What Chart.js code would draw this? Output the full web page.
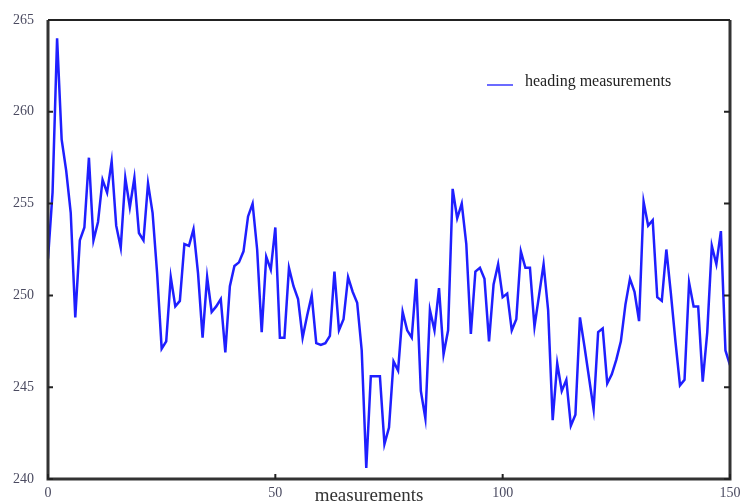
<!DOCTYPE html>
<html>
<head>
<meta charset="utf-8">
<script src="https://cdn.jsdelivr.net/npm/chart.js@4.4.0/dist/chart.umd.min.js"></script>
<style>
    html, body { margin: 0; padding: 0; background: #fff; }
    #wrap { width: 741px; height: 504px; }
</style>
</head>
<body>
<div id="wrap"><canvas id="headingChart"></canvas></div>
<script>
const measurements = [];
for (let i = 0; i <= 150; i++) measurements.push(i);

const headings = [
    252.0, 255.6, 264.0, 258.5, 256.8, 254.5, 248.8, 253.0, 253.7, 257.5,
    253.0, 254.0, 256.3, 255.6, 257.3, 253.8, 252.6, 256.4, 254.8, 256.4,
    253.4, 253.0, 256.1, 254.5, 251.2, 247.1, 247.5, 251.0, 249.4, 249.7,
    252.8, 252.7, 253.6, 251.2, 247.7, 251.0, 249.1, 249.4, 249.8, 246.9,
    250.5, 251.6, 251.8, 252.4, 254.3, 255.0, 252.5, 248.0, 252.1, 251.4,
    253.7, 247.7, 247.7, 251.5, 250.5, 249.8, 247.7, 248.9, 250.0, 247.4,
    247.3, 247.4, 247.8, 251.3, 248.1, 248.7, 251.0, 250.2, 249.6, 247.0,
    240.6, 245.6, 245.6, 245.6, 241.9, 242.8, 246.4, 245.9, 249.1, 248.1,
    247.7, 250.9, 244.8, 243.3, 249.2, 248.1, 250.4, 246.8, 248.1, 255.8,
    254.2, 255.0, 252.8, 247.9, 251.3, 251.5, 250.9, 247.5, 250.6, 251.7,
    249.9, 250.1, 248.1, 248.7, 252.4, 251.5, 251.5, 248.3, 250.0, 251.7,
    249.2, 243.2, 246.3, 244.8, 245.4, 242.9, 243.5, 248.8, 247.2, 245.5,
    243.8, 248.0, 248.2, 245.2, 245.7, 246.5, 247.5, 249.5, 250.9, 250.2,
    248.6, 255.1, 253.8, 254.1, 249.9, 249.7, 252.5, 250.1, 247.5, 245.1,
    245.4, 250.7, 249.4, 249.4, 245.3, 248.0, 252.7, 251.7, 253.5, 247.0,
    246.2
];

const xTicks = [0, 50, 100, 150];
const yTicks = [240, 245, 250, 255, 260, 265];
const seriesLabel = 'heading measurements';
const xTitle = 'measurements';

const points = measurements.map((m, idx) => ({ x: m, y: headings[idx] }));

// frame, inward ticks, legend and axis title
const framePlugin = {
    id: 'frame',
    afterDraw(chart) {
        const ctx = chart.ctx;
        const a = chart.chartArea;
        const xs = chart.scales.x;
        const ys = chart.scales.y;
        ctx.save();

        ctx.strokeStyle = '#333';
        ctx.lineWidth = 3;
        ctx.beginPath();
        ctx.moveTo(a.left, a.top);
        ctx.lineTo(a.left, a.bottom);
        ctx.lineTo(a.right, a.bottom);
        ctx.lineTo(a.right, a.top);
        ctx.stroke();
        ctx.lineWidth = 2;
        ctx.strokeStyle = '#222';
        ctx.beginPath();
        ctx.moveTo(a.left, a.top);
        ctx.lineTo(a.right, a.top);
        ctx.stroke();

        ctx.lineWidth = 2;
        ctx.strokeStyle = '#222';
        ctx.beginPath();
        yTicks.forEach(v => {
            const py = ys.getPixelForValue(v);
            ctx.moveTo(a.left, py);
            ctx.lineTo(a.left + 5, py);
            ctx.moveTo(a.right, py);
            ctx.lineTo(a.right - 6, py);
        });
        xTicks.forEach(v => {
            const px = xs.getPixelForValue(v);
            ctx.moveTo(px, a.bottom);
            ctx.lineTo(px, a.bottom - 5);
        });
        ctx.stroke();

        // legend
        ctx.strokeStyle = '#3a3aff';
        ctx.lineWidth = 1.5;
        ctx.beginPath();
        ctx.moveTo(487, 85);
        ctx.lineTo(513, 85);
        ctx.stroke();
        ctx.fillStyle = '#222';
        ctx.font = '16px "Liberation Serif", serif';
        ctx.textBaseline = 'middle';
        ctx.textAlign = 'left';
        ctx.fillText(seriesLabel, 525, 82);

        // axis title
        ctx.font = '19px "Liberation Serif", serif';
        ctx.textAlign = 'center';
        ctx.fillStyle = '#333';
        ctx.fillText(xTitle, 369, 496);
        ctx.restore();
    }
};

const ctx = document.getElementById('headingChart').getContext('2d');

const headingChart = new Chart(ctx, {
    type: 'line',
    data: {
        datasets: [{
            label: seriesLabel,
            data: points,
            borderColor: '#1f1fff',
            borderWidth: 2.5,
            pointRadius: 0,
            tension: 0,
            fill: false
        }]
    },
    options: {
        responsive: true,
        maintainAspectRatio: false,
        animation: false,
        layout: {
            padding: { top: 20, right: 11, left: 0, bottom: 0 }
        },
        plugins: {
            legend: { display: false },
            tooltip: { enabled: false }
        },
        scales: {
            x: {
                type: 'linear',
                min: 0,
                max: 150,
                afterBuildTicks: s => { s.ticks = xTicks.map(v => ({ value: v })); },
                afterFit: s => {
                    s.height = 25;
                    s.paddingLeft = 0;
                    s.paddingRight = 0;
                },
                grid: { display: false, drawTicks: false },
                border: { display: false },
                ticks: {
                    padding: 6,
                    color: '#4a4a60',
                    font: { family: '"Liberation Serif", serif', size: 14 }
                }
            },
            y: {
                min: 240,
                max: 265,
                afterBuildTicks: s => { s.ticks = yTicks.map(v => ({ value: v })); },
                afterFit: s => {
                    s.width = 48;
                    s.paddingTop = 0;
                    s.paddingBottom = 0;
                },
                grid: { display: false, drawTicks: false },
                border: { display: false },
                ticks: {
                    padding: 14,
                    color: '#4a4a60',
                    font: { family: '"Liberation Serif", serif', size: 14 }
                }
            }
        }
    },
    plugins: [framePlugin]
});
</script>
</body>
</html>
